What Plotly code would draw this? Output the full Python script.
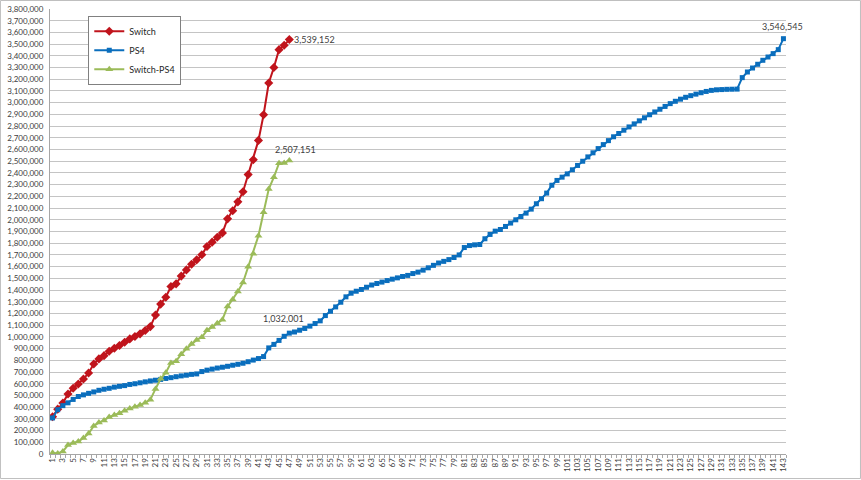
import plotly.graph_objects as go

weeks = list(range(1, 144))
tick_vals = list(range(1, 144, 2))
tick_labels = [str(v) for v in tick_vals]
y_ticks = list(range(0, 3800001, 100000))

switch = [318000, 383000, 435000, 513000, 561000, 598000, 641000, 692000, 769000, 812000,
          840000, 877000, 903000, 926000, 954000, 983000, 1003000, 1026000, 1054000, 1088000,
          1186000, 1280000, 1339000, 1430000, 1453000, 1519000, 1572000, 1620000, 1658000, 1701000,
          1772000, 1809000, 1851000, 1888000, 2008000, 2077000, 2153000, 2240000, 2386000, 2513000,
          2678000, 2897000, 3168000, 3300000, 3453000, 3490000, 3539152]

ps4 = [308000, 378000, 413000, 437000, 466000, 491000, 505000, 518000, 530000, 544000,
       553000, 561000, 571000, 578000, 584000, 594000, 600000, 608000, 616000, 624000,
       630000, 637000, 645000, 652000, 660000, 667000, 673000, 680000, 684000, 704000,
       716000, 725000, 734000, 741000, 749000, 758000, 766000, 775000, 788000, 802000,
       815000, 832000, 906000, 936000, 970000, 1005000, 1032001, 1042000, 1057000, 1072000,
       1092000, 1114000, 1137000, 1182000, 1219000, 1256000, 1296000, 1342000, 1373000, 1390000,
       1405000, 1424000, 1443000, 1456000, 1468000, 1481000, 1493000, 1504000, 1516000, 1525000,
       1541000, 1553000, 1570000, 1590000, 1611000, 1631000, 1645000, 1660000, 1678000, 1700000,
       1763000, 1780000, 1786000, 1789000, 1838000, 1875000, 1903000, 1917000, 1943000, 1972000,
       2000000, 2028000, 2057000, 2091000, 2137000, 2180000, 2228000, 2295000, 2336000, 2364000,
       2392000, 2427000, 2464000, 2500000, 2537000, 2572000, 2608000, 2642000, 2676000, 2709000,
       2737000, 2765000, 2793000, 2819000, 2845000, 2871000, 2897000, 2921000, 2944000, 2968000,
       2992000, 3012000, 3030000, 3046000, 3060000, 3073000, 3085000, 3096000, 3105000, 3110000,
       3112000, 3114000, 3115000, 3116000, 3214000, 3262000, 3296000, 3328000, 3362000, 3390000,
       3419000, 3453000, 3546545]

switch_minus_ps4 = [10000, 5000, 22000, 76000, 95000, 107000, 136000, 174000, 239000, 268000,
                    287000, 316000, 332000, 348000, 370000, 389000, 403000, 418000, 438000, 464000,
                    556000, 643000, 694000, 778000, 793000, 852000, 899000, 940000, 974000, 997000,
                    1056000, 1084000, 1117000, 1147000, 1259000, 1319000, 1387000, 1465000, 1598000, 1711000,
                    1863000, 2065000, 2262000, 2364000, 2483000, 2485000, 2507151]

RED = "#C0141C"
BLUE = "#0A6EBD"
GREEN = "#9BBB59"
FONT = "Lato"
TXT = "#404040"

fig = go.Figure()
fig.add_trace(go.Scatter(x=weeks[:len(switch)], y=switch, name="Switch", mode="lines+markers",
                         line=dict(color=RED, width=2),
                         marker=dict(symbol="diamond", size=7, color=RED)))
fig.add_trace(go.Scatter(x=weeks[:len(ps4)], y=ps4, name="PS4", mode="lines+markers",
                         line=dict(color=BLUE, width=2),
                         marker=dict(symbol="square", size=5, color=BLUE)))
fig.add_trace(go.Scatter(x=weeks[:len(switch_minus_ps4)], y=switch_minus_ps4, name="Switch-PS4",
                         mode="lines+markers",
                         line=dict(color=GREEN, width=2),
                         marker=dict(symbol="triangle-up", size=7, color=GREEN)))

ann_font = dict(family=FONT, size=9, color=TXT)
fig.add_annotation(x=len(switch), y=switch[-1], text=f"{switch[-1]:,}", showarrow=False,
                   xanchor="left", yanchor="middle", xshift=3, font=ann_font)
fig.add_annotation(x=len(switch_minus_ps4), y=switch_minus_ps4[-1], text=f"{switch_minus_ps4[-1]:,}",
                   showarrow=False, xanchor="center", yanchor="bottom", xshift=6, yshift=3, font=ann_font)
fig.add_annotation(x=47, y=ps4[46], text=f"{ps4[46]:,}", showarrow=False,
                   xanchor="center", yanchor="bottom", xshift=-6, yshift=7, font=ann_font)
fig.add_annotation(x=len(ps4), y=ps4[-1], text=f"{ps4[-1]:,}", showarrow=False,
                   xanchor="center", yanchor="bottom", xshift=-1, yshift=5, font=ann_font)

# chart-area border
fig.add_shape(type="rect", xref="paper", yref="paper",
              x0=-0.0673, x1=1.1012, y0=-0.0551, y1=1.0191,
              line=dict(color="#BFBFBF", width=1), layer="above")

fig.update_layout(
    width=861, height=480,
    margin=dict(l=50, r=75, t=9, b=26, autoexpand=False),
    paper_bgcolor="white", plot_bgcolor="white",
    font=dict(family=FONT, size=9, color=TXT),
    showlegend=True,
    hovermode=False,
    legend=dict(x=0.052, y=0.985, xanchor="left", yanchor="top",
                bordercolor="#808080", borderwidth=1, bgcolor="white",
                font=dict(family=FONT, size=9, color="#262626"),
                tracegroupgap=0, itemwidth=30),
    xaxis=dict(range=[0.5, 143.5], tickmode="array", tickvals=tick_vals, ticktext=tick_labels,
               tickangle=-90, tickfont=dict(family=FONT, size=8, color=TXT),
               showgrid=False, zeroline=False, showline=True, linecolor="#A6A6A6", linewidth=1,
               ticks="outside", ticklen=0, automargin=False,
               minor=dict(tickmode="linear", tick0=0.5, dtick=1, ticks="outside", ticklen=3,
                          tickcolor="#A6A6A6", showgrid=False),
               fixedrange=True),
    yaxis=dict(range=[0, 3800000], tickmode="array", tickvals=y_ticks,
               ticktext=[f"{v:,}" for v in y_ticks],
               tickfont=dict(family=FONT, size=8, color=TXT),
               showgrid=True, gridcolor="#C4C4C4", gridwidth=1,
               zeroline=False, showline=True, linecolor="#A6A6A6", linewidth=1,
               ticks="", ticklabelstandoff=4, ticklabeloverflow="allow", automargin=False,
               fixedrange=True),
)

fig.write_html("out.html", config={"displayModeBar": False},
               post_script="document.body.style.margin='0px';")
